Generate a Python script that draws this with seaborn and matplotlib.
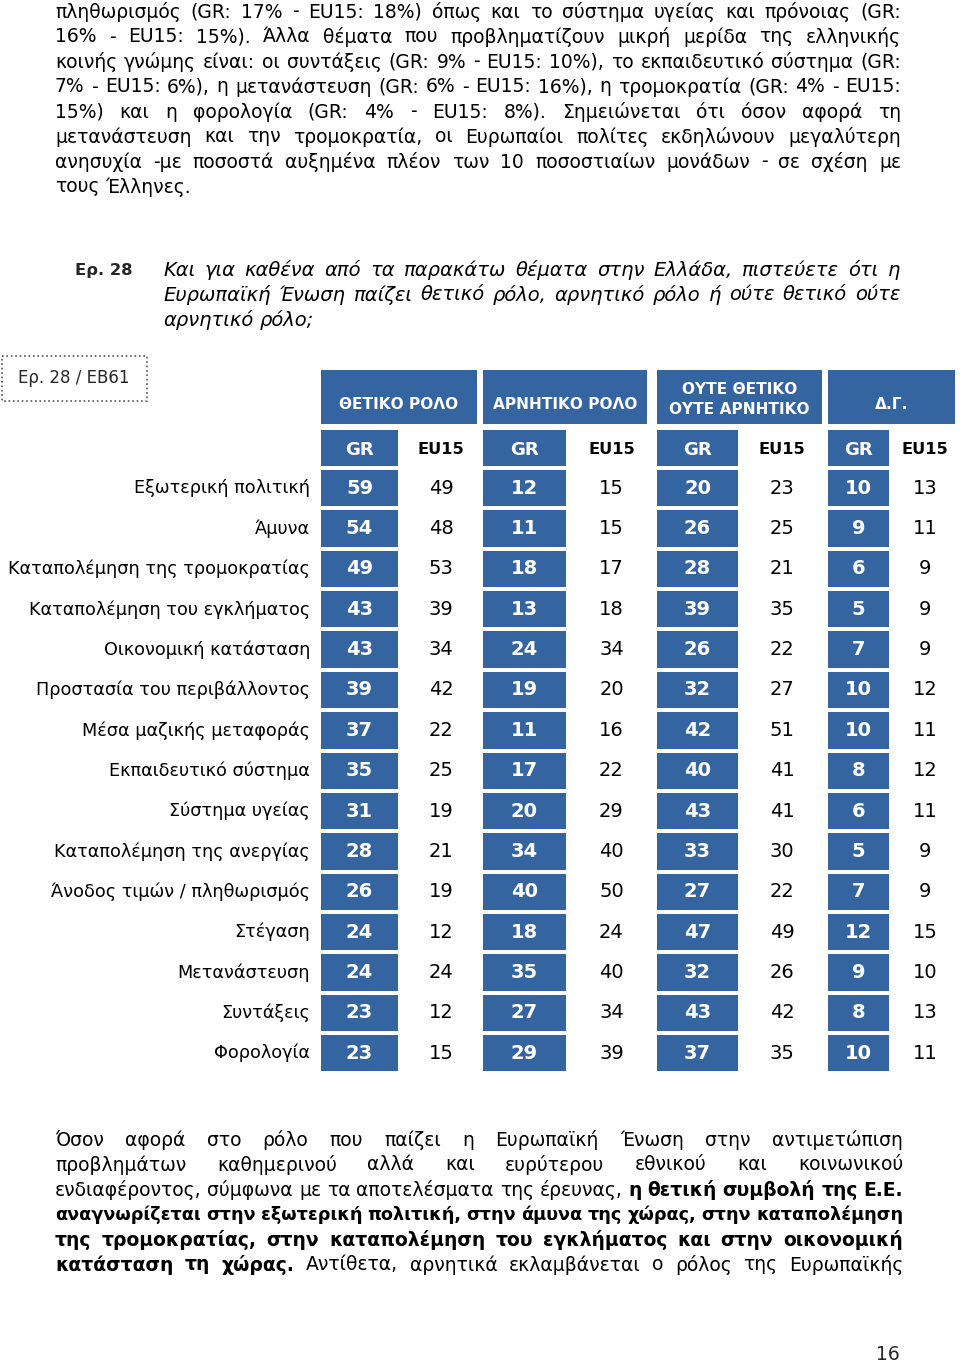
import matplotlib
matplotlib.use('Agg')
import matplotlib.pyplot as plt
from matplotlib.colors import ListedColormap
from matplotlib.patches import Rectangle
import numpy as np
import pandas as pd
import seaborn as sns

sns.set_theme(style="white")

BODY = ['DejaVu Sans']
BLUE = '#3565A0'

# --- table data (Ερ. 28 / EB61) ---
topics = [
    'Εξωτερική πολιτική', 'Άμυνα', 'Καταπολέμηση της τρομοκρατίας',
    'Καταπολέμηση του εγκλήματος', 'Οικονομική κατάσταση',
    'Προστασία του περιβάλλοντος', 'Μέσα μαζικής μεταφοράς',
    'Εκπαιδευτικό σύστημα', 'Σύστημα υγείας', 'Καταπολέμηση της ανεργίας',
    'Άνοδος τιμών / πληθωρισμός', 'Στέγαση', 'Μετανάστευση', 'Συντάξεις',
    'Φορολογία',
]
groups = ['ΘΕΤΙΚΟ ΡΟΛΟ', 'ΑΡΝΗΤΙΚΟ ΡΟΛΟ', 'ΟΥΤΕ ΘΕΤΙΚΟ\nΟΥΤΕ ΑΡΝΗΤΙΚΟ', 'Δ.Γ.']
gr_pos = [59, 54, 49, 43, 43, 39, 37, 35, 31, 28, 26, 24, 24, 23, 23]
eu_pos = [49, 48, 53, 39, 34, 42, 22, 25, 19, 21, 19, 12, 24, 12, 15]
gr_neg = [12, 11, 18, 13, 24, 19, 11, 17, 20, 34, 40, 18, 35, 27, 29]
eu_neg = [15, 15, 17, 18, 34, 20, 16, 22, 29, 40, 50, 24, 40, 34, 39]
gr_neu = [20, 26, 28, 39, 26, 32, 42, 40, 43, 33, 27, 47, 32, 43, 37]
eu_neu = [23, 25, 21, 35, 22, 27, 51, 41, 41, 30, 22, 49, 26, 42, 35]
gr_dk = [10, 9, 6, 5, 7, 10, 10, 8, 6, 5, 7, 12, 9, 8, 10]
eu_dk = [13, 11, 9, 9, 9, 12, 11, 12, 11, 9, 9, 15, 10, 13, 11]

# --- page text ---
top_lines = [
    'πληθωρισμός (GR: 17% - EU15: 18%) όπως και το σύστημα υγείας και πρόνοιας (GR:',
    '16% - EU15: 15%). Άλλα θέματα που προβληματίζουν μικρή μερίδα της ελληνικής',
    'κοινής γνώμης είναι: οι συντάξεις (GR: 9% - EU15: 10%), το εκπαιδευτικό σύστημα (GR:',
    '7% - EU15: 6%), η μετανάστευση (GR: 6% - EU15: 16%), η τρομοκρατία (GR: 4% - EU15:',
    '15%) και η φορολογία (GR: 4% - EU15: 8%). Σημειώνεται ότι όσον αφορά τη',
    'μετανάστευση και την τρομοκρατία, οι Ευρωπαίοι πολίτες εκδηλώνουν μεγαλύτερη',
    'ανησυχία -με ποσοστά αυξημένα πλέον των 10 ποσοστιαίων μονάδων - σε σχέση με',
    'τους Έλληνες.',
]
question_lines = [
    'Και για καθένα από τα παρακάτω θέματα στην Ελλάδα, πιστεύετε ότι η',
    'Ευρωπαϊκή Ένωση παίζει θετικό ρόλο, αρνητικό ρόλο ή ούτε θετικό ούτε',
    'αρνητικό ρόλο;',
]
bottom_lines = [
    [('Όσον αφορά στο ρόλο που παίζει η Ευρωπαϊκή Ένωση στην αντιμετώπιση', 'normal')],
    [('προβλημάτων καθημερινού αλλά και ευρύτερου εθνικού και κοινωνικού', 'normal')],
    [('ενδιαφέροντος, σύμφωνα με τα αποτελέσματα της έρευνας,', 'normal'),
     ('η θετική συμβολή της Ε.Ε.', 'bold')],
    [('αναγνωρίζεται στην εξωτερική πολιτική, στην άμυνα της χώρας, στην καταπολέμηση', 'bold')],
    [('της τρομοκρατίας, στην καταπολέμηση του εγκλήματος και στην οικονομική', 'bold')],
    [('κατάσταση τη χώρας.', 'bold'),
     ('Αντίθετα, αρνητικά εκλαμβάνεται ο ρόλος της Ευρωπαϊκής', 'normal')],
]

W, H = 960, 1364
fig = plt.figure(figsize=(W / 100, H / 100), dpi=100)
bg = fig.add_axes([0, 0, 1, 1])
bg.set_xlim(0, W)
bg.set_ylim(H, 0)
bg.axis('off')
renderer = fig.canvas.get_renderer()


def px_axes(x0, y0, x1, y1, **kw):
    return fig.add_axes([x0 / W, 1 - y1 / H, (x1 - x0) / W, (y1 - y0) / H], **kw)


def text_width(s, size, **kw):
    t = bg.text(0, 0, s, fontsize=size, family=BODY, **kw)
    w = t.get_window_extent(renderer).width
    t.remove()
    return w


def fit_size(s, width, **kw):
    """Font size that makes s about `width` pixels wide."""
    return 10 * width / text_width(s, 10, **kw)


def put_line(segments, y, x0, x1, size, justify=True, style='normal'):
    """Place words one by one so the line fills x0..x1 (justified text)."""
    words = [(w, wt) for txt, wt in segments for w in txt.split()]
    space = text_width('a a', size, style=style) - text_width('aa', size, style=style)
    arts, widths = [], []
    for w, wt in words:
        t = bg.text(0, y, w, fontsize=size, fontweight=wt, style=style,
                    family=BODY, va='center', ha='left', color='black')
        widths.append(t.get_window_extent(renderer).width)
        arts.append(t)
    if justify and len(arts) > 1:
        room = x1 - x0 - space * 0.9 * (len(arts) - 1)
        if sum(widths) > room:  # too long: shrink this line a little
            f = room / sum(widths)
            for t in arts:
                t.set_fontsize(size * f)
            widths = [w * f for w in widths]
        gap = (x1 - x0 - sum(widths)) / (len(arts) - 1)
    else:
        gap = space
    x = x0
    for t, w in zip(arts, widths):
        t.set_x(x)
        x += w + gap


body_size = fit_size('τους Έλληνες.', 136)
q_size = fit_size('αρνητικό ρόλο;', 150, style='italic')
label_size = fit_size('Καταπολέμηση της τρομοκρατίας', 300)
head_size = fit_size('ΑΡΝΗΤΙΚΟ ΡΟΛΟ', 146, fontweight='bold')
eu_head_size = fit_size('EU15', 47, fontweight='bold')
gr_head_size = fit_size('GR', 29, fontweight='bold')

# top paragraph
for i, line in enumerate(top_lines):
    put_line([(line, 'normal')], 12 + 25 * i, 55, 901, body_size,
             justify=i < len(top_lines) - 1)

# question
bg.text(75, 270, 'Ερ. 28', fontsize=fit_size('Ερ. 28', 58, fontweight='bold'),
        fontweight='bold', family=BODY, va='center', ha='left')
for i, line in enumerate(question_lines):
    put_line([(line, 'normal')], 270 + 25 * i, 163, 900, q_size,
             justify=i < len(question_lines) - 1, style='italic')

# source box
bg.add_patch(Rectangle((2, 356), 145, 45, fill=False, linestyle=':',
                       linewidth=1.2, edgecolor='#555555'))
bg.text(74, 378, 'Ερ. 28 / EB61', fontsize=fit_size('Ερ. 28 / EB61', 112),
        family=BODY, va='center', ha='center')

# bottom paragraph
for i, segs in enumerate(bottom_lines):
    put_line(segs, 1140 + 25 * i, 55, 903, body_size, justify=True)

bg.text(888, 1355, '16', fontsize=body_size, family=BODY, va='center', ha='center')

# --- table ---
gr_cols = [gr_pos, gr_neg, gr_neu, gr_dk]
eu_cols = [eu_pos, eu_neg, eu_neu, eu_dk]
head_x = [(321, 477), (483, 647), (657, 822), (828, 955)]
gr_x = [(321, 398), (483, 566), (657, 738), (828, 889)]
eu_x = [(398, 484), (566, 657), (738, 826), (889, 961)]
y_top, y_bot = 427.8, 1073.2
lw_pt = 4 * 72 / 100  # 4 px white gap between cells

for k, grp in enumerate(groups):
    hx0, hx1 = head_x[k]
    hax = px_axes(hx0, 370, hx1, 424, facecolor=BLUE)
    hax.set_xticks([])
    hax.set_yticks([])
    for s in hax.spines.values():
        s.set_visible(False)
    hax.text(0.5, 0.36 if '\n' not in grp else 0.45, grp, transform=hax.transAxes,
             ha='center', va='center', color='white', fontsize=head_size,
             fontweight='bold', family=BODY, linespacing=1.45)

    df = pd.DataFrame({'GR': gr_cols[k], 'EU15': eu_cols[k]}, index=topics)

    # GR column: blue cells with white numbers
    gx0, gx1 = gr_x[k]
    gax = px_axes(gx0 - 2, y_top, gx1 + 2, y_bot)
    gr_vals = np.ones((len(topics) + 1, 1))
    gr_annot = np.array([['GR']] + [[str(v)] for v in df['GR']])
    sns.heatmap(gr_vals, ax=gax, cmap=ListedColormap([BLUE]), cbar=False,
                annot=gr_annot, fmt='', linewidths=lw_pt, linecolor='white',
                xticklabels=False,
                yticklabels=([''] + topics) if k == 0 else False,
                annot_kws=dict(color='white', fontsize=14, fontweight='bold',
                               family=BODY))
    gax.texts[0].set_fontsize(gr_head_size)
    gax.texts[0].set_y(gax.texts[0].get_position()[1] + 0.05)
    if k == 0:
        gax.tick_params(axis='y', length=0, pad=6.5, labelsize=label_size,
                        rotation=0, labelcolor='black')
        for lab in gax.get_yticklabels():
            lab.set_family(BODY)

    # EU15 column: plain white cells with black numbers
    ex0, ex1 = eu_x[k]
    eax = px_axes(ex0, y_top, ex1, y_bot)
    eu_annot = np.array([['EU15']] + [[str(v)] for v in df['EU15']])
    sns.heatmap(np.zeros((len(topics) + 1, 1)), ax=eax,
                cmap=ListedColormap(['white']), cbar=False, annot=eu_annot,
                fmt='', xticklabels=False, yticklabels=False,
                annot_kws=dict(color='black', fontsize=14, family=BODY))
    eax.texts[0].set_fontweight('bold')
    eax.texts[0].set_fontsize(eu_head_size)
    eax.texts[0].set_y(eax.texts[0].get_position()[1] + 0.05)

fig.savefig('out.png', dpi=100)
